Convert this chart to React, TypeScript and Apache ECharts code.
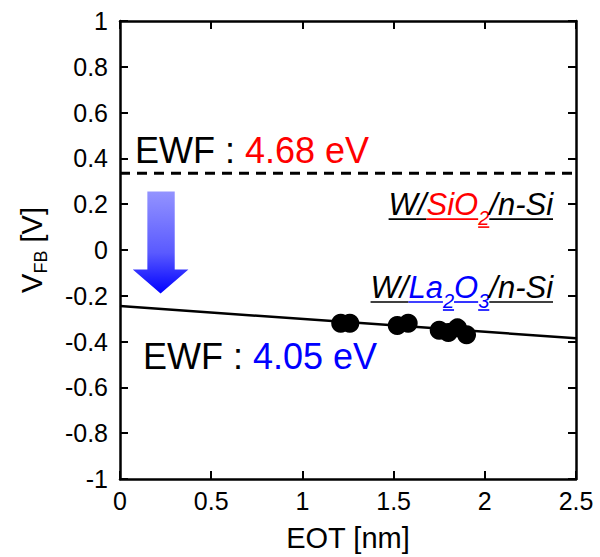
import React, { useEffect, useRef } from "react";
import * as echarts from "echarts";

// Measured flat-band voltage vs. equivalent oxide thickness
const eotNm = [1.21, 1.26, 1.52, 1.58, 1.75, 1.8, 1.85, 1.9];
const vfbV = [-0.32, -0.32, -0.33, -0.32, -0.35, -0.36, -0.34, -0.37];

// Linear fit for W/La2O3/n-Si and reference level for W/SiO2/n-Si
const fitX = [0, 2.5];
const fitY = [-0.245, -0.385];
const sio2Level = 0.335;

const xTicks = { min: 0, max: 2.5, interval: 0.5 };
const yTicks = { min: -1, max: 1, interval: 0.2 };

const FONT = "Liberation Sans, Arial, sans-serif";

type Seg = { text: string; color: string; size: number; sub?: boolean; italic?: boolean };

let measureCtx: CanvasRenderingContext2D | null = null;
function measure(seg: Seg): number {
  if (!measureCtx) measureCtx = document.createElement("canvas").getContext("2d");
  measureCtx!.font = `${seg.italic ? "italic " : ""}${seg.size}px ${FONT}`;
  return measureCtx!.measureText(seg.text).width;
}

// Lays out a run of text pieces on one baseline (subscripts sit lower), optionally underlined
function textRun(segs: Seg[], x: number, baseline: number, align: "left" | "right", underline = false) {
  const SUB_DROP = 9;
  const widths = segs.map(measure);
  const total = widths.reduce((a, b) => a + b, 0);
  let cx = align === "left" ? x : x - total;
  const out: any[] = [];
  segs.forEach((s, i) => {
    const base = baseline + (s.sub ? SUB_DROP : 0);
    out.push({
      type: "text",
      x: cx,
      y: base + 0.13 * s.size,
      silent: true,
      style: {
        text: s.text,
        fill: s.color,
        font: `${s.italic ? "italic " : ""}${s.size}px ${FONT}`,
        textAlign: "left",
        textVerticalAlign: "bottom",
      },
    });
    if (underline) {
      const uy = base + (s.sub ? 2 : 3);
      out.push({
        type: "line",
        silent: true,
        shape: { x1: cx, y1: uy, x2: cx + widths[i], y2: uy },
        style: { stroke: s.color, lineWidth: 1.6 },
      });
    }
    cx += widths[i];
  });
  return out;
}

export default function App() {
  const ref = useRef<HTMLDivElement>(null);

  useEffect(() => {
    if (!ref.current) return;
    const chart = echarts.init(ref.current, null, { renderer: "svg" });

    const axisLine = { show: true, onZero: false, lineStyle: { color: "#000", width: 2.5 } };
    const tickIn = { show: true, inside: true, length: 8, lineStyle: { color: "#000", width: 2 } };
    const labelStyle = { color: "#000", fontSize: 25, fontFamily: FONT };

    chart.setOption({
      animation: false,
      backgroundColor: "#fff",
      grid: { left: 120, right: 24, top: 21, bottom: 78, containLabel: false },
      xAxis: [
        {
          type: "value",
          ...xTicks,
          position: "bottom",
          axisLine,
          axisTick: tickIn,
          splitLine: { show: false },
          axisLabel: { ...labelStyle, margin: 9 },
          name: "EOT [nm]",
          nameLocation: "middle",
          nameGap: 44,
          nameTextStyle: { color: "#000", fontSize: 29, fontFamily: FONT },
        },
        {
          type: "value",
          ...xTicks,
          position: "top",
          axisLine,
          axisTick: tickIn,
          splitLine: { show: false },
          axisLabel: { show: false },
        },
      ],
      yAxis: [
        {
          type: "value",
          ...yTicks,
          position: "left",
          axisLine,
          axisTick: tickIn,
          splitLine: { show: false },
          axisLabel: { ...labelStyle, margin: 12 },
          name: "{v|V}{s|FB}{v| [V]}",
          nameLocation: "middle",
          nameGap: 70,
          nameTextStyle: {
            color: "#000",
            fontFamily: FONT,
            rich: {
              v: { fontSize: 29, fontFamily: FONT, color: "#000", lineHeight: 33, verticalAlign: "top" },
              s: { fontSize: 18, fontFamily: FONT, color: "#000", lineHeight: 20, verticalAlign: "bottom" },
            },
          },
        },
        {
          type: "value",
          ...yTicks,
          position: "right",
          axisLine,
          axisTick: tickIn,
          splitLine: { show: false },
          axisLabel: { show: false },
        },
      ],
      series: [
        {
          name: "W/SiO2/n-Si",
          type: "line",
          data: fitX.map((x) => [x, sio2Level]),
          symbol: "none",
          lineStyle: { color: "#000", width: 3, type: [10, 7] },
          z: 2,
        },
        {
          name: "fit",
          type: "line",
          data: fitX.map((x, i) => [x, fitY[i]]),
          symbol: "none",
          lineStyle: { color: "#000", width: 2.5 },
          z: 2,
        },
        {
          name: "W/La2O3/n-Si",
          type: "scatter",
          data: eotNm.map((x, i) => [x, vfbV[i]]),
          symbol: "circle",
          symbolSize: 19,
          itemStyle: { color: "#000", opacity: 1 },
          z: 3,
        },
      ],
    });

    const px = (x: number, y: number) => chart.convertToPixel({ gridIndex: 0 }, [x, y]) as number[];

    // Annotation baselines in data units
    const [ewfTopX, ewfTopY] = px(0.082, 0.375);
    const [ewfBotX, ewfBotY] = px(0.126, -0.524);
    const [labRight, sioY] = px(2.374, 0.148);
    const [, laY] = px(2.374, -0.214);

    const big = 36;
    const lab = 31;
    const sub = 20;
    const graphics: any[] = [
      ...textRun(
        [
          { text: "EWF", color: "#000", size: big },
          { text: " : ", color: "#000", size: big },
          { text: "4.68 eV", color: "#ff0000", size: big },
        ],
        ewfTopX,
        ewfTopY,
        "left"
      ),
      ...textRun(
        [
          { text: "EWF", color: "#000", size: big },
          { text: " : ", color: "#000", size: big },
          { text: "4.05 eV", color: "#0000ff", size: big },
        ],
        ewfBotX,
        ewfBotY,
        "left"
      ),
      ...textRun(
        [
          { text: "W/", color: "#000", size: lab, italic: true },
          { text: "SiO", color: "#ff0000", size: lab, italic: true },
          { text: "2", color: "#ff0000", size: sub, italic: true, sub: true },
          { text: "/n-Si", color: "#000", size: lab, italic: true },
        ],
        labRight,
        sioY,
        "right",
        true
      ),
      ...textRun(
        [
          { text: "W/", color: "#000", size: lab, italic: true },
          { text: "La", color: "#0000ff", size: lab, italic: true },
          { text: "2", color: "#0000ff", size: sub, italic: true, sub: true },
          { text: "O", color: "#0000ff", size: lab, italic: true },
          { text: "3", color: "#0000ff", size: sub, italic: true, sub: true },
          { text: "/n-Si", color: "#000", size: lab, italic: true },
        ],
        labRight,
        laY,
        "right",
        true
      ),
    ];

    // Downward arrow marking the shift of the flat-band voltage
    const [sL, aTop] = px(0.15, 0.255);
    const [sR] = px(0.3, 0.255);
    const [hL, hTop] = px(0.07, -0.085);
    const [hR, tip] = px(0.375, -0.19);
    const tipX = (hL + hR) / 2;
    graphics.push({
      type: "polygon",
      silent: true,
      shape: {
        points: [
          [sL, aTop],
          [sR, aTop],
          [sR, hTop],
          [hR, hTop],
          [tipX, tip],
          [hL, hTop],
          [sL, hTop],
        ],
      },
      style: {
        fill: new echarts.graphic.LinearGradient(0, 0, 0, 1, [
          { offset: 0, color: "#9393ff" },
          { offset: 0.6, color: "#5a5aff" },
          { offset: 1, color: "#0000ff" },
        ]),
      },
    });

    chart.setOption({ graphic: graphics });

    return () => chart.dispose();
  }, []);

  return <div ref={ref} style={{ width: 600, height: 557, position: "absolute", left: 0, top: 0 }} />;
}
